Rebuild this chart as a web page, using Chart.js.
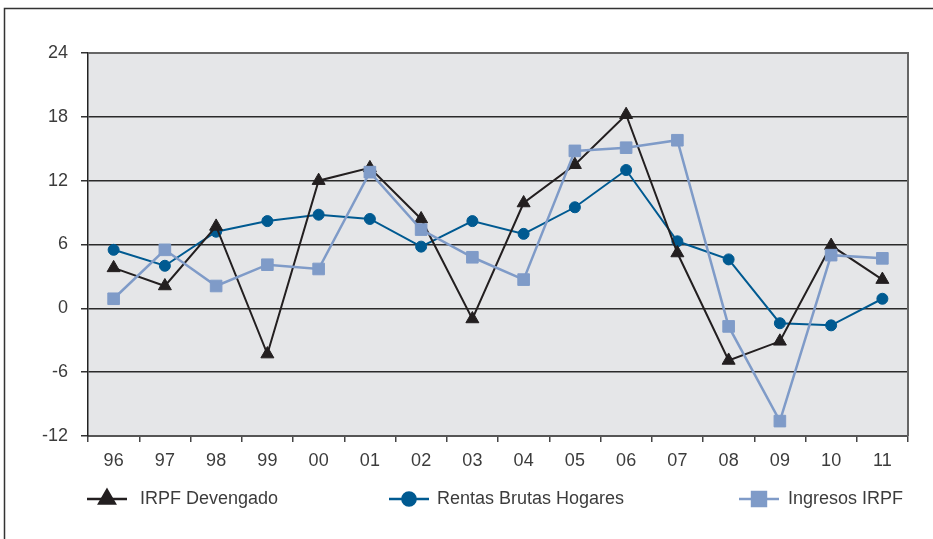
<!DOCTYPE html>
<html>
<head>
<meta charset="utf-8">
<script src="https://cdn.jsdelivr.net/npm/chart.js@4.4.0/dist/chart.umd.min.js"></script>
<style>
  html, body { margin: 0; padding: 0; background: #fff; }
  #wrap { width: 933px; height: 539px; }
</style>
</head>
<body>
<div id="wrap"><canvas id="grafico"></canvas></div>
<script>
/* ===== Datos ===== */
const anios = ['96', '97', '98', '99', '00', '01', '02', '03', '04', '05', '06', '07', '08', '09', '10', '11'];
const irpfDevengado = [3.8, 2.1, 7.7, -4.3, 12.0, 13.2, 8.4, -1.0, 9.9, 13.5, 18.2, 5.2, -4.9, -3.1, 5.9, 2.7];
const rentasBrutas  = [5.5, 4.0, 7.2, 8.2, 8.8, 8.4, 5.8, 8.2, 7.0, 9.5, 13.0, 6.3, 4.6, -1.4, -1.6, 0.9];
const ingresosIrpf  = [0.9, 5.5, 2.1, 4.1, 3.7, 12.8, 7.4, 4.8, 2.7, 14.8, 15.1, 15.8, -1.7, -10.6, 5.0, 4.7];
const ticksY = [-12, -6, 0, 6, 12, 18, 24];
const nombres = ['IRPF Devengado', 'Rentas Brutas Hogares', 'Ingresos IRPF'];

/* ===== Estilo ===== */
const FUENTE = '"Liberation Sans", Arial, sans-serif';
const TEXTO = '#3c3c3c';
const NEGRO = '#231f20';
const AZUL = '#005a91';
const CELESTE = '#7f9bc8';

// fondo, marco exterior y borde del área de trazado
const fondoPlugin = {
    id: 'fondo',
    beforeDraw(chart) {
        const { ctx, chartArea: a } = chart;
        ctx.save();
        ctx.fillStyle = '#fff';
        ctx.fillRect(0, 0, chart.width, chart.height);
        ctx.strokeStyle = '#333';
        ctx.lineWidth = 1.5;
        ctx.beginPath();
        ctx.moveTo(4.5, chart.height);
        ctx.lineTo(4.5, 8.5);
        ctx.lineTo(chart.width, 8.5);
        ctx.stroke();
        ctx.fillStyle = '#e5e6e8';
        ctx.fillRect(a.left, a.top, a.right - a.left, a.bottom - a.top);
        ctx.restore();
    },
    beforeDatasetsDraw(chart) {
        const { ctx, chartArea: a } = chart;
        ctx.save();
        ctx.strokeStyle = '#666';
        ctx.lineWidth = 2;
        ctx.beginPath();
        ctx.moveTo(a.left, a.top);
        ctx.lineTo(a.right, a.top);
        ctx.lineTo(a.right, a.bottom);
        ctx.stroke();
        ctx.restore();
    }
};

// leyenda propia: línea con marcador y texto, repartida a lo ancho
const leyendaPlugin = {
    id: 'leyenda',
    afterDraw(chart, args, opts) {
        const { ctx } = chart;
        ctx.save();
        chart.data.datasets.forEach((ds, i) => {
            const x0 = opts.lineaX[i];
            const y = opts.y;
            ctx.strokeStyle = ds.borderColor;
            ctx.lineWidth = 2.5;
            ctx.beginPath();
            ctx.moveTo(x0, y);
            ctx.lineTo(x0 + 40, y);
            ctx.stroke();
            ctx.fillStyle = ds.pointBackgroundColor;
            ctx.strokeStyle = ds.pointBackgroundColor;
            Chart.helpers.drawPoint(ctx, {
                pointStyle: ds.pointStyle,
                radius: ds.pointRadius * 1.2,
                borderWidth: 1,
                rotation: 0
            }, x0 + 20, y);
            ctx.fillStyle = TEXTO;
            ctx.font = '18px ' + FUENTE;
            ctx.textBaseline = 'middle';
            ctx.textAlign = 'left';
            ctx.fillText(ds.label, opts.textoX[i], y);
        });
        ctx.restore();
    }
};

function serie(label, data, color, estilo, radio, grosor, orden) {
    return {
        label: label,
        data: data,
        borderColor: color,
        backgroundColor: color,
        pointBackgroundColor: color,
        pointBorderColor: color,
        pointBorderWidth: 1,
        pointStyle: estilo,
        pointRadius: radio,
        borderWidth: grosor,
        tension: 0,
        order: orden
    };
}

new Chart(document.getElementById('grafico').getContext('2d'), {
    type: 'line',
    data: {
        labels: anios,
        datasets: [
            serie(nombres[0], irpfDevengado, NEGRO, 'triangle', 7.5, 2, 1),
            serie(nombres[1], rentasBrutas, AZUL, 'circle', 5.5, 2, 2),
            serie(nombres[2], ingresosIrpf, CELESTE, 'rect', 8.2, 2.5, 0)
        ]
    },
    options: {
        responsive: true,
        maintainAspectRatio: false,
        animation: false,
        devicePixelRatio: 1,
        layout: { padding: { top: 53, right: 25, left: 0, bottom: 0 } },
        plugins: {
            legend: { display: false },
            tooltip: { enabled: false },
            leyenda: { y: 499, lineaX: [87, 389, 739], textoX: [140, 437, 788] }
        },
        scales: {
            x: {
                offset: true,
                grid: {
                    offset: true,
                    drawOnChartArea: false,
                    tickLength: 6,
                    tickColor: '#444',
                    lineWidth: 1.5
                },
                border: { color: '#555', width: 2 },
                ticks: { color: TEXTO, padding: 8, font: { size: 18, family: FUENTE } },
                afterFit: s => { s.height = 103; }
            },
            y: {
                min: -12,
                max: 24,
                afterBuildTicks: s => { s.ticks = ticksY.map(v => ({ value: v })); },
                grid: {
                    color: c => (c.tick && (c.tick.value === 24 || c.tick.value === -12)) ? '#666' : '#2a2a2a',
                    lineWidth: 1.5,
                    tickLength: 7,
                    tickColor: '#333'
                },
                border: { color: '#222', width: 1.5 },
                ticks: { color: TEXTO, padding: 13, font: { size: 18, family: FUENTE } },
                afterFit: s => { s.width = 88; }
            }
        }
    },
    plugins: [fondoPlugin, leyendaPlugin]
});
</script>
</body>
</html>
